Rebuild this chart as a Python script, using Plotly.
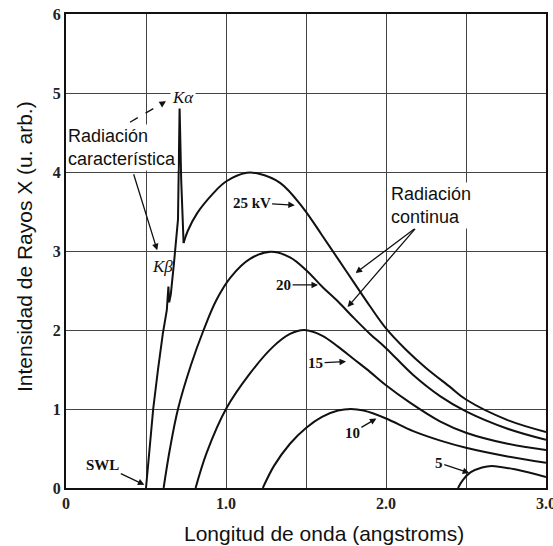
import plotly.graph_objects as go

# espectro de rayos X (Mo), intensidad vs longitud de onda
# 25 kV: tramo con picos Kb / Ka (lineal) + continuo (suavizado)
x25_picos = [0.50, 0.52, 0.545, 0.575, 0.605, 0.63, 0.64, 0.645, 0.655, 0.675, 0.70, 0.71, 0.72, 0.735]
y25_picos = [0.0, 0.45, 1.0, 1.5, 1.95, 2.25, 2.55, 2.35, 2.45, 2.85, 3.4, 4.82, 3.9, 3.1]
x25 = [0.735, 0.76, 0.82, 0.92, 1.0, 1.13, 1.2, 1.34, 1.48, 1.6, 1.7, 1.8, 1.9, 2.0, 2.12, 2.25, 2.4, 2.5, 2.76, 3.0]
y25 = [3.1, 3.25, 3.48, 3.73, 3.88, 3.99, 3.98, 3.86, 3.55, 3.2, 2.9, 2.6, 2.3, 2.02, 1.76, 1.52, 1.28, 1.12, 0.86, 0.71]

x20 = [0.61, 0.65, 0.70, 0.78, 0.86, 0.94, 1.03, 1.15, 1.28, 1.4, 1.5, 1.6, 1.7, 1.8, 1.9, 2.0, 2.17, 2.34, 2.5, 2.76, 3.0]
y20 = [0.0, 0.5, 1.0, 1.55, 2.0, 2.38, 2.67, 2.9, 2.99, 2.92, 2.76, 2.55, 2.36, 2.15, 1.95, 1.77, 1.43, 1.16, 0.97, 0.75, 0.61]

x15 = [0.81, 0.88, 1.0, 1.15, 1.29, 1.40, 1.49, 1.6, 1.7, 1.8, 1.9, 2.0, 2.15, 2.34, 2.5, 2.76, 3.0]
y15 = [0.0, 0.45, 1.0, 1.45, 1.78, 1.95, 2.0, 1.93, 1.79, 1.63, 1.47, 1.3, 1.08, 0.84, 0.70, 0.56, 0.48]

x10 = [1.23, 1.3, 1.4, 1.5, 1.6, 1.7, 1.78, 1.86, 2.0, 2.17, 2.34, 2.5, 2.76, 3.0]
y10 = [0.0, 0.28, 0.56, 0.76, 0.9, 0.98, 1.0, 0.98, 0.88, 0.72, 0.6, 0.51, 0.40, 0.32]

x5 = [2.45, 2.48, 2.53, 2.6, 2.66, 2.82, 3.0]
y5 = [0.0, 0.1, 0.2, 0.26, 0.28, 0.23, 0.14]

x_ticks = [0, 0.5, 1.0, 1.5, 2.0, 2.5, 3.0]
x_ticktext = ["0", "", "1.0", "", "2.0", "", "3.0"]
y_ticks = [0, 1, 2, 3, 4, 5, 6]

INK = "#111"
SERIF = "Liberation Serif, Times New Roman, serif"
SANS = "Liberation Sans, Arial, sans-serif"

fig = go.Figure()
curvas = [
    (x25_picos, y25_picos, "linear"),
    (x25, y25, "spline"),
    (x20, y20, "spline"),
    (x15, y15, "spline"),
    (x10, y10, "spline"),
    (x5, y5, "spline"),
]
for xs, ys, forma in curvas:
    fig.add_scatter(x=xs, y=ys, mode="lines", showlegend=False,
                    line=dict(color=INK, width=2, shape=forma))


def flecha(x, y, ax, ay, text="", **kw):
    return dict(x=x, y=y, ax=ax, ay=ay, xref="x", yref="y", axref="x", ayref="y",
                text=text, showarrow=True, arrowhead=2, arrowsize=1,
                arrowwidth=1.3, arrowcolor=INK,
                font=dict(family=SERIF, size=15, color=INK, weight="bold"), **kw)


anotaciones = [
    flecha(1.43, 3.58, 1.16, 3.61, "25 kV"),
    flecha(1.575, 2.57, 1.36, 2.57, "20"),
    flecha(1.75, 1.6, 1.56, 1.58, "15"),
    flecha(1.94, 0.88, 1.79, 0.70, "10"),
    flecha(2.52, 0.19, 2.33, 0.32, "5"),
    flecha(0.49, 0.04, 0.23, 0.29, "SWL"),
    # flechas de las radiaciones
    flecha(0.57, 3.01, 0.42, 3.99),
    flecha(0.625, 4.895, 0.60, 4.865),
    flecha(1.81, 2.72, 2.19, 3.30),
    flecha(1.76, 2.29, 2.19, 3.30),
    dict(x=0.73, y=4.94, xref="x", yref="y", text="<i>K\u03b1</i>", showarrow=False,
         bgcolor="white", font=dict(family=SERIF, size=17, color=INK)),
    dict(x=0.60, y=2.80, xref="x", yref="y", text="<i>K\u03b2</i>", showarrow=False,
         font=dict(family=SERIF, size=17, color=INK)),
    dict(x=0.0, y=4.31, xref="x", yref="y", xanchor="left", yanchor="middle", align="left",
         text="Radiación<br>característica", showarrow=False, bgcolor="white", borderpad=1,
         font=dict(family=SANS, size=18, color="#111")),
    dict(x=2.02, y=3.58, xref="x", yref="y", xanchor="left", yanchor="middle", align="left",
         text="Radiación<br>continua", showarrow=False, bgcolor="white", borderpad=1,
         font=dict(family=SANS, size=18, color="#111")),
    # titulos de ejes
    dict(x=-0.088, y=0.51, xref="paper", yref="paper", textangle=-90, showarrow=False,
         text="Intensidad de Rayos X (u. arb.)", xanchor="center", yanchor="middle",
         font=dict(family=SANS, size=21, color="#111")),
    dict(x=0.5375, y=-0.095, xref="paper", yref="paper", showarrow=False,
         text="Longitud de onda (angstroms)", xanchor="center", yanchor="middle",
         font=dict(family=SANS, size=21, color="#111")),
]

fig.add_shape(type="line", xref="x", yref="y", x0=0.40, y0=4.63, x1=0.615, y1=4.885,
              line=dict(color=INK, width=1.3, dash="dash"))

fig.update_layout(
    width=553, height=546,
    margin=dict(l=66, r=7, t=14, b=58, autoexpand=False),
    plot_bgcolor="white", paper_bgcolor="white",
    annotations=anotaciones,
    showlegend=False,
)
fig.update_xaxes(range=[0, 3.0], tickvals=x_ticks, ticktext=x_ticktext,
                 showgrid=True, gridcolor="#444", gridwidth=1.3,
                 showline=True, mirror=True, linecolor="#111", linewidth=2,
                 zeroline=False, ticks="", ticklabeloverflow="allow", automargin=False,
                 tickfont=dict(family=SERIF, size=16, color="#222", weight="bold"))
fig.update_yaxes(range=[0, 6], tickvals=y_ticks,
                 showgrid=True, gridcolor="#444", gridwidth=1.3,
                 showline=True, mirror=True, linecolor="#111", linewidth=2,
                 zeroline=False, ticks="", ticklabeloverflow="allow", automargin=False,
                 tickfont=dict(family=SERIF, size=16, color="#222", weight="bold"))

# sin margen en el body para que la figura ocupe la ventana entera
fig.write_html("out.html", config={"displayModeBar": False},
               post_script="document.body.style.margin='0';")
